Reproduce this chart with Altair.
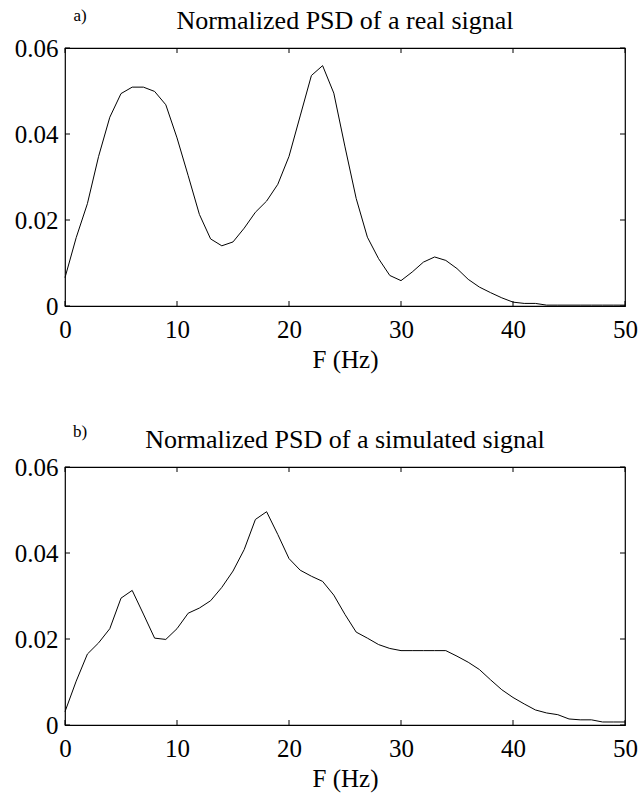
import altair as alt
import pandas as pd

freq = list(range(51))

psd_real = [0.0066, 0.0159, 0.0238, 0.0348, 0.0439, 0.0494, 0.0509, 0.0509, 0.0499, 0.0468,
            0.0391, 0.0303, 0.0213, 0.0156, 0.0140, 0.0149, 0.0181, 0.0218, 0.0244, 0.0283,
            0.0348, 0.0442, 0.0536, 0.0559, 0.0495, 0.0370, 0.0250, 0.0160, 0.0110, 0.0071,
            0.0059, 0.0079, 0.0102, 0.0114, 0.0106, 0.0087, 0.0062, 0.0044, 0.0031, 0.0019,
            0.0009, 0.0006, 0.0006, 0.0002, 0.0002, 0.0002, 0.0002, 0.0002, 0.0002, 0.0002,
            0.0002]

psd_sim = [0.0031, 0.0102, 0.0165, 0.0191, 0.0224, 0.0295, 0.0313, 0.0258, 0.0202, 0.0199,
           0.0224, 0.0260, 0.0272, 0.0289, 0.0320, 0.0358, 0.0408, 0.0478, 0.0496, 0.0443,
           0.0387, 0.0360, 0.0346, 0.0334, 0.0302, 0.0257, 0.0216, 0.0202, 0.0187, 0.0178,
           0.0173, 0.0173, 0.0173, 0.0173, 0.0173, 0.0160, 0.0146, 0.0129, 0.0105, 0.0082,
           0.0064, 0.0049, 0.0035, 0.0028, 0.0024, 0.0014, 0.0012, 0.0012, 0.0007, 0.0007,
           0.0007]

x_ticks = [0, 10, 20, 30, 40, 50]
y_ticks = [0, 0.02, 0.04, 0.06]

titles = ["Normalized PSD of a real signal", "Normalized PSD of a simulated signal"]
tags = ["a)", "b)"]

FONT = "'Liberation Serif', 'Times New Roman', Times, serif"
W, H = 560, 258
TICK = 5


def panel(values, title, tag, tag_y, title_y):
    df = pd.DataFrame({"F": freq, "PSD": values})
    xs = alt.Scale(domain=[0, 50], nice=False, zero=False)
    ys = alt.Scale(domain=[0, 0.06], nice=False)

    line = alt.Chart(df).mark_line(color="black", strokeWidth=1).encode(
        x=alt.X("F:Q", scale=xs,
                axis=alt.Axis(values=x_ticks, title="F (Hz)", tickSize=0, domain=False,
                              grid=False, labelPadding=11, labelFont=FONT, labelFontSize=25,
                              labelColor="black", labelFlush=False, labelOverlap=False,
                              titleFont=FONT, titleFontSize=25,
                              titleFontWeight="normal", titleColor="black",
                              titleBaseline="alphabetic", titleY=61, format="d")),
        y=alt.Y("PSD:Q", scale=ys,
                axis=alt.Axis(values=y_ticks, title=None, tickSize=0, domain=False,
                              grid=False, labelPadding=7, labelFont=FONT, labelFontSize=25,
                              labelColor="black", labelFlush=False, labelOverlap=False,
                              labelExpr="datum.value == 0 ? '0' : format(datum.value, '.2f')")),
    )

    xt = pd.DataFrame({"F": x_ticks})
    yt = pd.DataFrame({"PSD": y_ticks})
    x_bot = alt.Chart(xt).mark_rule(color="black", strokeWidth=1).encode(
        x=alt.X("F:Q", scale=xs), y=alt.value(H), y2=alt.value(H - TICK))
    x_top = alt.Chart(xt).mark_rule(color="black", strokeWidth=1).encode(
        x=alt.X("F:Q", scale=xs), y=alt.value(0), y2=alt.value(TICK))
    y_left = alt.Chart(yt).mark_rule(color="black", strokeWidth=1).encode(
        y=alt.Y("PSD:Q", scale=ys), x=alt.value(0), x2=alt.value(TICK))
    y_right = alt.Chart(yt).mark_rule(color="black", strokeWidth=1).encode(
        y=alt.Y("PSD:Q", scale=ys), x=alt.value(W), x2=alt.value(W - TICK))

    lab = alt.Chart(pd.DataFrame({"tag": [tag]})).mark_text(
        font=FONT, fontSize=17, color="black", align="center", baseline="middle"
    ).encode(text="tag:N", x=alt.value(15), y=alt.value(tag_y))

    ttl = alt.Chart(pd.DataFrame({"title": [title]})).mark_text(
        font=FONT, fontSize=26, color="black", align="center", baseline="alphabetic"
    ).encode(text="title:N", x=alt.value(W / 2), y=alt.value(title_y))

    return alt.layer(line, x_bot, x_top, y_left, y_right, lab, ttl).properties(
        width=W, height=H,
    )


top = panel(psd_real, titles[0], tags[0], -32, -19)
bottom = panel(psd_sim, titles[1], tags[1], -35, -19)

chart = (
    alt.vconcat(top, bottom, spacing=161, bounds="flush")
    .properties(
        padding={"left": 13, "top": 6, "right": 2, "bottom": 5},
        background="white",
    )
    .configure(font=FONT)
    .configure_axis(labelFont=FONT, titleFont=FONT)
    .configure_text(font=FONT)
    .configure_view(stroke="black", strokeWidth=1.2)
)

chart.save("out.html", embed_options={"renderer": "svg", "actions": False})
